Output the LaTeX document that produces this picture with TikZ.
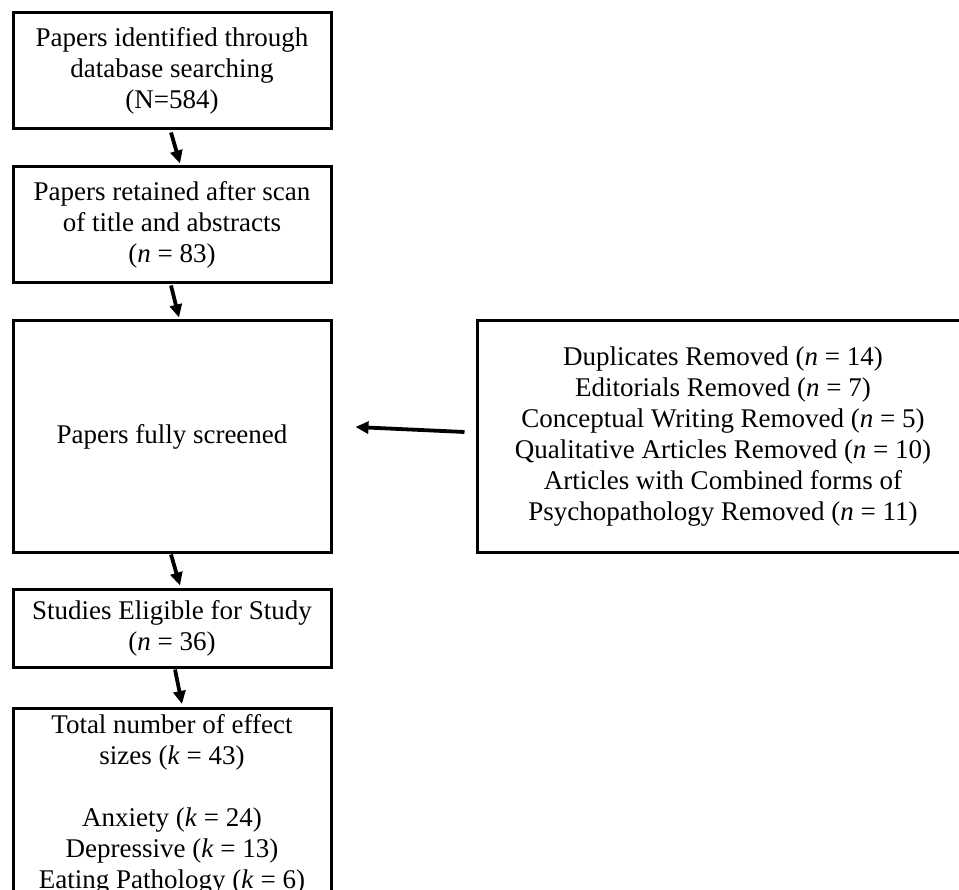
\documentclass[tikz,border=0pt]{standalone}
\usepackage{fontspec}
\setmainfont{Liberation Serif}
\usetikzlibrary{arrows.meta,calc}
\newcommand\boxfont{\fontsize{27}{31}\selectfont}
\begin{document}
\begin{tikzpicture}[x=1pt,y=-1pt,
  box/.style={draw, line width=3pt, rectangle, inner sep=0pt, align=center, font=\boxfont},
  arr/.style={line width=3.8pt, -{Triangle[length=13pt,width=12pt]}}]
\useasboundingbox[fill=white] (0,0) rectangle (959,890);
\node[box, minimum width=318pt, minimum height=116pt] (b1) at (172,71)
  {Papers identified through\\database searching\\(N=584)};
\node[box, minimum width=318pt, minimum height=116pt] (b2) at (172,225)
  {Papers retained after scan\\of title and abstracts\\(\textit{n} = 83)};
\node[box, minimum width=318pt, minimum height=231pt] (b3) at (172,436.5)
  {Papers fully screened};
\node[box, minimum width=492pt, minimum height=231pt] (r) at (723,436.5)
  {Duplicates Removed (\textit{n} = 14)\\Editorials Removed (\textit{n} = 7)\\Conceptual Writing Removed (\textit{n} = 5)\\Qualitative Articles Removed (\textit{n} = 10)\\Articles with Combined forms of\\Psychopathology Removed (\textit{n} = 11)};
\node[box, minimum width=318pt, minimum height=78pt] (b4) at (172,628)
  {Studies Eligible for Study\\(\textit{n} = 36)};
\node[box, anchor=north] (b5) at (172,707)
  {\parbox[c][210pt][t]{318pt}{\centering\boxfont\vspace*{6pt}Total number of effect\\sizes (\textit{k} = 43)\\[31pt]Anxiety (\textit{k} = 24)\\Depressive (\textit{k} = 13)\\Eating Pathology (\textit{k} = 6)}};
\draw[arr] ($(b1.south)+(-1,2)$) -- ($(b2.north)+(8,-2)$);
\draw[arr] ($(b2.south)+(-1,1)$) -- ($(b3.north)+(7,-2)$);
\draw[arr] ($(b3.south)+(-1,1)$) -- ($(b4.north)+(8,-2)$);
\draw[arr] ($(b4.south)+(3,1)$) -- ($(b5.north)+(10,-3)$);
\draw[arr] ($(r.west)+(-11,-4.5)$) -- ($(b3.east)+(23,-9.5)$);
\end{tikzpicture}
\end{document}
